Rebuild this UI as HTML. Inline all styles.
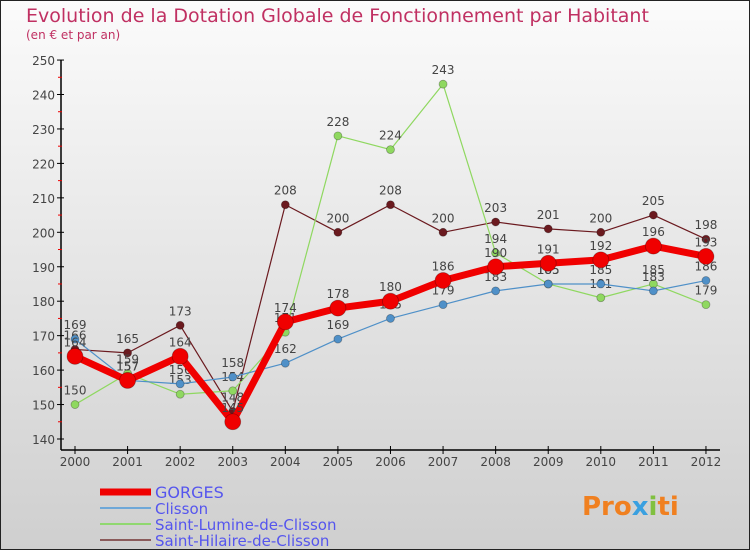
<!DOCTYPE html>
<html><head><meta charset="utf-8"><style>
body{margin:0;}
#wrap{width:750px;height:550px;position:relative;overflow:hidden;font-family:"DejaVu Sans","Liberation Sans",sans-serif;}
</style></head><body>
<div id="wrap">
<svg id="chart" width="750" height="550" xmlns="http://www.w3.org/2000/svg">
<defs><linearGradient id="bg" x1="0" y1="0" x2="0" y2="1"><stop offset="0" stop-color="#fbfbfb"/><stop offset="1" stop-color="#cfcfcf"/></linearGradient></defs>
<rect x="0.5" y="0.5" width="749" height="549" fill="url(#bg)" stroke="#222"/>
<text x="26" y="22" font-size="19" fill="#c03062">Evolution de la Dotation Globale de Fonctionnement par Habitant</text>
<text x="26" y="39" font-size="12" fill="#c03062">(en € et par an)</text>
<g id="axes"></g><g id="series"></g><g id="legend"></g>
<text x="582" y="515" font-size="26" font-weight="bold" fill="#f08020">Pro<tspan fill="#3aa0e0">x</tspan><tspan fill="#80c040">i</tspan>ti</text>
</svg></div>
<script>
const years=["2000","2001","2002","2003","2004","2005","2006","2007","2008","2009","2010","2011","2012"];
const yTicks=[140,150,160,170,180,190,200,210,220,230,240,250];
const gorges=[164,157,164,145,174,178,180,186,190,191,192,196,193];
const clisson=[169,157,156,158,162,169,175,179,183,185,185,183,186];
const lumine=[150,159,153,154,171,228,224,243,194,185,181,185,179];
const hilaire=[166,165,173,148,208,200,208,200,203,201,200,205,198];
const NS="http://www.w3.org/2000/svg";
function X(i){return 75+i*52.58;}
function Y(v){return 439-(v-140)*3.445;}
function mk(t,a,p){const e=document.createElementNS(NS,t);for(const k in a)e.setAttribute(k,a[k]);(p||document.getElementById('axes')).appendChild(e);return e;}
const ax=document.getElementById('axes');
let e=mk('line',{x1:61,y1:60,x2:61,y2:450,stroke:'#000','stroke-width':1.5});


e=mk('line',{x1:61,y1:450,x2:720,y2:450,stroke:'#000','stroke-width':1.5});


yTicks.forEach(v=>{
 mk('line',{x1:57,y1:Y(v),x2:64,y2:Y(v),stroke:'#000'});
 if(v<250)mk('line',{x1:58,y1:Y(v+5),x2:62,y2:Y(v+5),stroke:'#e00'});
 const t=mk('text',{x:55,y:Y(v)+5,'font-size':12,'text-anchor':'end',fill:'#444'});t.textContent=v;
 
 
});
years.forEach((y,i)=>{
 mk('line',{x1:X(i),y1:446,x2:X(i),y2:454,stroke:'#000'});
 const t=mk('text',{x:X(i),y:466,'font-size':12,'text-anchor':'middle',fill:'#444'});t.textContent=y;
 
 
});
const sg=document.getElementById('series');
const S=[[hilaire,'#6b1a1f',1.2,4,'saint-hilaire'],[lumine,'#8fd860',1.2,4,'saint-lumine'],[clisson,'#4f90c8',1.2,4,'clisson'],[gorges,'#f00000',7,8,'gorges']];
S.forEach(([d,c,w,r,n])=>{
 const g=mk('g',{},sg);
 
 
 const pl=mk('polyline',{points:d.map((v,i)=>X(i)+','+Y(v)).join(' '),fill:'none',stroke:c,'stroke-width':w,'stroke-linejoin':'round'},g);
 
 
 d.forEach((v,i)=>{
  const p=mk('circle',{cx:X(i),cy:Y(v),r:r,fill:c,stroke:'rgba(0,0,0,0.3)','stroke-width':0.8},g);
  
  
  const t=mk('text',{x:X(i),y:Y(v)-10,'font-size':12,'text-anchor':'middle',fill:'#444'},g);t.textContent=v;
  
  
 });
});
const lg=document.getElementById('legend');
[['GORGES','#f00000',7],['Clisson','#6fa8d8',2],['Saint-Lumine-de-Clisson','#90d870',2],['Saint-Hilaire-de-Clisson','#8a5a5a',2]].forEach(([n,c,w],i)=>{
 const y=492+i*16;
 const g=mk('g',{},lg);
 
 
 mk('line',{x1:100,y1:y,x2:151,y2:y,stroke:c,'stroke-width':w},g);
 const t=mk('text',{x:155,y:y+6,'font-size':i==0?16:15,fill:'#5555ee'},g);t.textContent=n;
});
</script>
</body></html>
